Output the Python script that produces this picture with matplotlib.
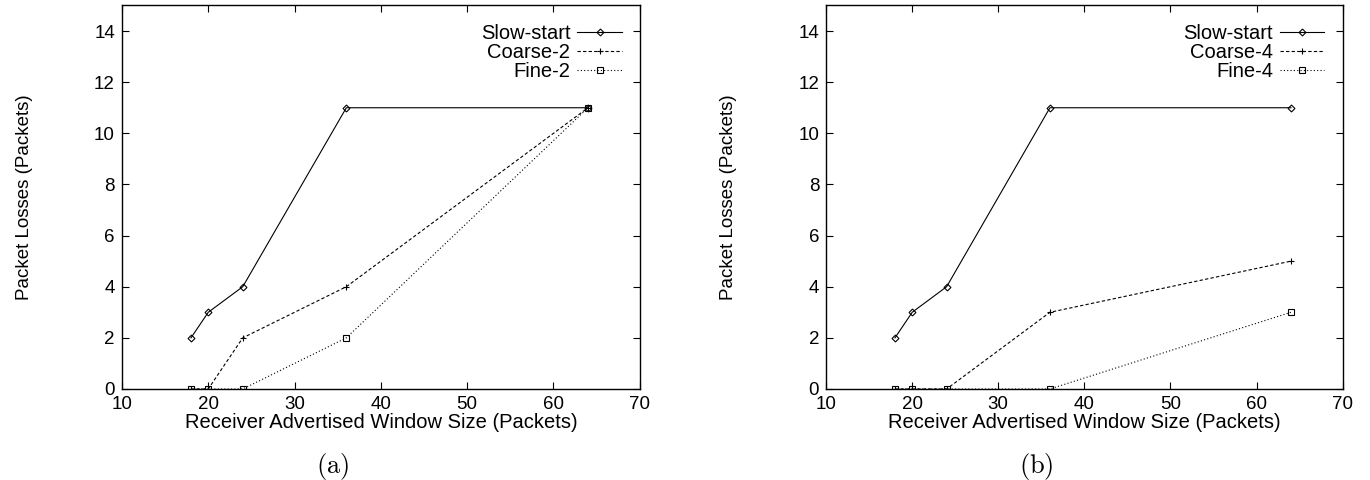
import matplotlib
matplotlib.use("Agg")
import matplotlib.pyplot as plt

plt.rcParams['font.family'] = ['Liberation Sans', 'DejaVu Sans']
plt.rcParams['mathtext.fontset'] = 'cm'

window = [18, 20, 24, 36, 64]
slow_start = [2, 3, 4, 11, 11]
coarse_2 = [0, 0, 2, 4, 11]
fine_2 = [0, 0, 0, 2, 11]
coarse_4 = [0, 0, 0, 3, 5]
fine_4 = [0, 0, 0, 0, 3]

xticks = [10, 20, 30, 40, 50, 60, 70]
yticks = [0, 2, 4, 6, 8, 10, 12, 14]

fig = plt.figure(figsize=(13.7, 4.8), dpi=100)
ax1 = fig.add_axes([0.089, 0.1896, 0.378, 0.799])
ax2 = fig.add_axes([0.603, 0.1896, 0.377, 0.799])

panels = [
    (ax1, coarse_2, fine_2, 'Coarse-2', 'Fine-2', 'a'),
    (ax2, coarse_4, fine_4, 'Coarse-4', 'Fine-4', 'b'),
]

for ax, coarse, fine, cl, fl, cap in panels:
    ax.plot(window, slow_start, color='black', lw=0.8, ls='-', marker='D',
            ms=3.5, mfc='none', mew=0.8, label='Slow-start')
    ax.plot(window, coarse, color='black', lw=0.8, ls=(0, (3, 2)), marker='+',
            ms=5, mew=0.8, label=cl)
    ax.plot(window, fine, color='black', lw=0.8, ls=(0, (1, 2)), marker='s',
            ms=4.5, mfc='none', mew=0.8, label=fl)
    ax.set_xlim(10, 70)
    ax.set_ylim(0, 15)
    ax.set_xticks(xticks)
    ax.set_yticks(yticks)
    ax.tick_params(direction='in', length=5, width=0.8, top=True, right=True,
                   labelsize=13.5, pad=5)
    for s in ax.spines.values():
        s.set_linewidth(1.0)
    ax.set_xlabel('Receiver Advertised Window Size (Packets)', fontsize=14.5, labelpad=0)
    ax.set_ylabel('Packet Losses (Packets)', fontsize=13.5, labelpad=44)
    leg = ax.legend(loc='upper right', frameon=False, markerfirst=False,
                    fontsize=14.5, handlelength=2.2, handletextpad=0.35,
                    labelspacing=0.0, borderaxespad=0.5)
    for t in leg.get_texts():
        t.set_ha('right')
    ax.text(0.407, -0.162, r'$(\mathrm{%s})$' % cap, transform=ax.transAxes,
            ha='center', va='top', fontsize=19)

fig.savefig('out.png', dpi=100)
